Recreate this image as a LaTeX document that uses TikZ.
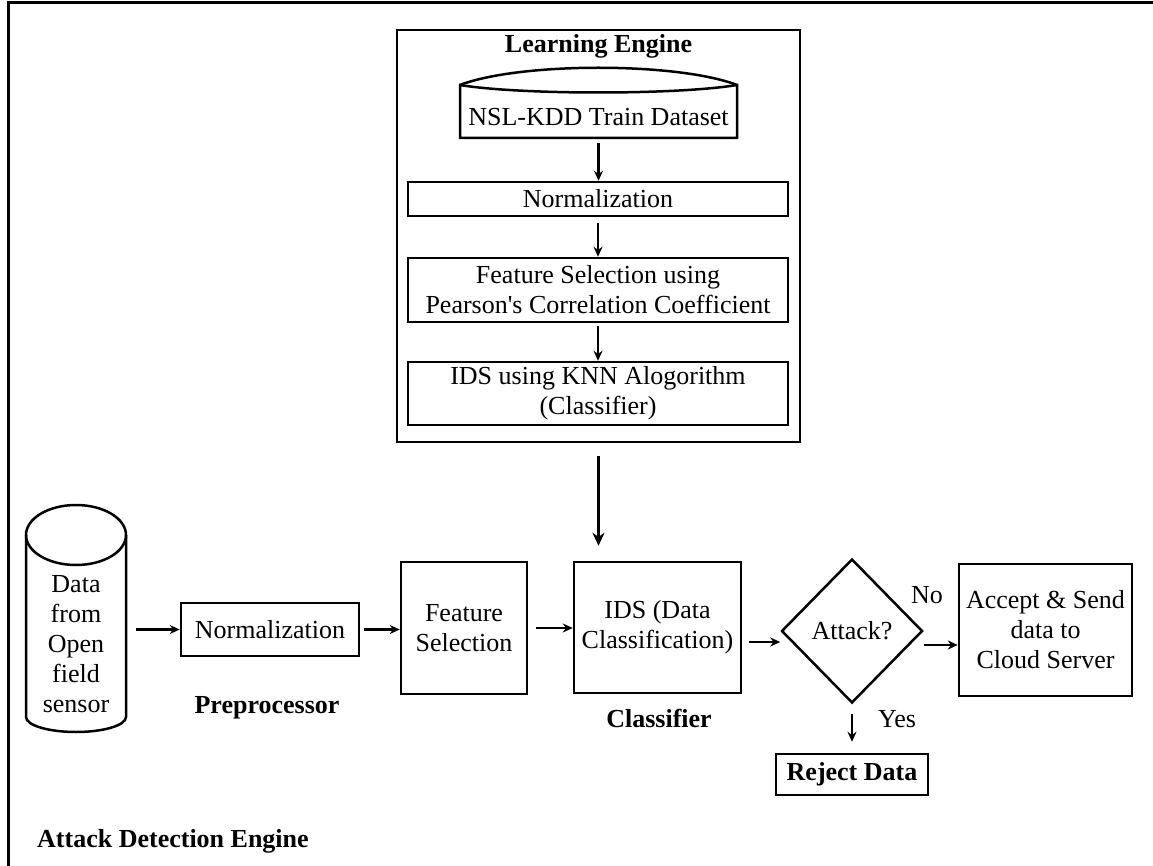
\documentclass[tikz,border=0pt]{standalone}
\usepackage{fontspec}
\setmainfont{Liberation Serif}
\usetikzlibrary{shapes.geometric,arrows.meta}
\begin{document}
\begin{tikzpicture}[x=1pt,y=-1pt,
  box/.style={draw,line width=2.5pt,inner sep=0pt,align=center,font=\fontsize{26}{30}\selectfont},
  lbl/.style={inner sep=0pt,align=center,font=\fontsize{26}{30}\selectfont},
  blbl/.style={inner sep=0pt,font=\fontsize{26}{30}\selectfont\bfseries},
  arr/.style={line width=2.5pt,-{Stealth[length=10pt,width=9pt]}},
  bigarr/.style={line width=2.5pt,-{Stealth[length=13pt,width=12pt]}},
]
\useasboundingbox (0,0) rectangle (1153,866);
% outer frame
\draw[line width=3pt] (1153,3) -- (8,3) -- (8,866);

% Learning engine
\node[box,minimum width=403pt,minimum height=412pt] (le) at (598.5,236) {};
\node[blbl,anchor=base] (letitle) at (598.5,53) {Learning Engine};
\draw[line width=2.5pt] (460,85) .. controls (520,62) and (677,62) .. (737,85);
\draw[line width=2.5pt] (460,85) .. controls (520,95) and (677,95) .. (737,85)
  -- (737,138) -- (460,138) -- cycle;
\node[lbl] (ds) at (598.5,117) {NSL-KDD Train Dataset};
\coordinate (dsb) at (598.5,138);
\node[box,minimum width=380pt,minimum height=34pt] (n1) at (598,199) {Normalization};
\node[box,minimum width=380pt,minimum height=64pt] (n2) at (598,290) {Feature Selection using\\Pearson\textquotesingle s Correlation Coefficient};
\node[box,minimum width=380pt,minimum height=63pt] (n3) at (598,393.5) {IDS using KNN Alogorithm\\(Classifier)};
\draw[arr,shorten <=5pt] (dsb) -- (dsb |- n1.north);
\draw[arr,shorten <=6pt] (n1.south) -- (n2.north);
\draw[arr,shorten <=3pt] (n2.south) -- (n3.north);

% bottom row
\draw[line width=2.5pt] (26,535) -- (26,717) arc[start angle=180,end angle=0,x radius=50,y radius=15] -- (126,535);
\draw[line width=2.5pt] (76,535) ellipse[x radius=50,y radius=30];
\node[lbl,minimum width=100pt] (cyl) at (76,644) {Data\\from\\Open\\field\\sensor};
\node[box,minimum width=178pt,minimum height=53pt] (norm) at (270,629.5) {Normalization};
\node[box,minimum width=126pt,minimum height=132pt] (feat) at (464,628) {Feature\\Selection};
\node[box,minimum width=167pt,minimum height=131pt] (ids) at (657.5,627.5) {IDS (Data\\Classification)};
\node[box,diamond,minimum width=141pt,minimum height=144pt] (dia) at (852,631) {Attack?};
\node[box,minimum width=173pt,minimum height=132pt] (acc) at (1045.5,630) {Accept \& Send\\data to\\Cloud Server};
\node[box,minimum width=152pt,minimum height=41pt,font=\fontsize{26}{30}\selectfont\bfseries] (rej) at (852,774.5) {Reject Data};

\draw[arr,shorten <=10pt] (cyl.east |- norm.west) -- (norm.west);
\draw[arr,shorten <=4pt] (norm.east) -- (norm.east -| feat.west);
\draw[arr,shorten <=8pt] (feat.east) -- (feat.east -| ids.west);
\draw[arr,shorten <=7pt] ([yshift=-14.5pt]ids.east) -- ([yshift=-14.5pt]ids.east -| dia.west);
\draw[arr] ([yshift=-14pt]dia.east) -- ([yshift=-14pt]dia.east -| acc.west);
\draw[arr,shorten <=10pt,shorten >=11pt] (dia.south) -- (rej.north);
\draw[bigarr] ([yshift=-13pt]le.south) -- ([yshift=15pt]ids.north -| le.south);

% labels
\node[lbl,anchor=base] (no) at (927,603) {No};
\node[lbl,anchor=base] (yes) at (897,727) {Yes};
\node[blbl,anchor=base] (pre) at (267,713) {Preprocessor};
\node[blbl,anchor=base] (cls) at (659,727) {Classifier};
\node[blbl,anchor=base west] (ade) at (37,847) {Attack Detection Engine};
\end{tikzpicture}
\end{document}
